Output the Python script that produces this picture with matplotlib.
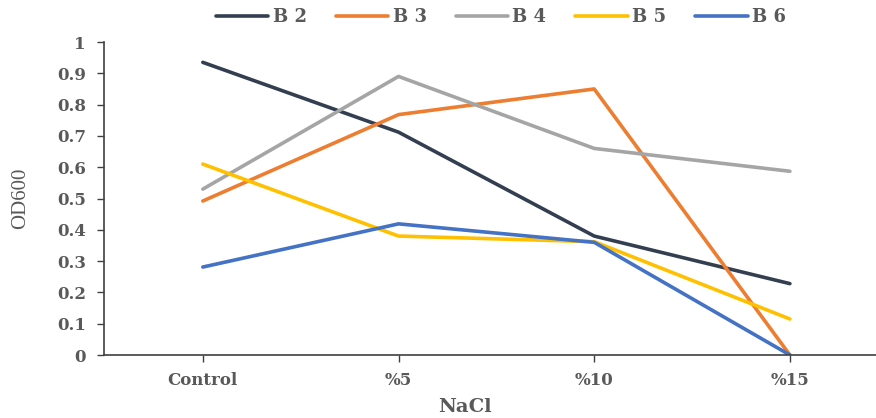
import matplotlib
matplotlib.use('Agg')
import matplotlib.pyplot as plt

# data
categories = ["Control", "%5", "%10", "%15"]
b2 = [0.935, 0.712, 0.380, 0.228]
b3 = [0.492, 0.768, 0.850, 0.0]
b4 = [0.530, 0.890, 0.660, 0.587]
b5 = [0.610, 0.380, 0.362, 0.115]
b6 = [0.281, 0.419, 0.360, 0.0]
names = ["B 2", "B 3", "B 4", "B 5", "B 6"]
colors = ["#333f50", "#ed7d31", "#a5a5a5", "#ffc000", "#4472c4"]

plt.rcParams['font.family'] = ['DejaVu Serif']
txt = "#595959"

fig = plt.figure(figsize=(8.76, 4.18), dpi=100)
ax = fig.add_axes([104/876, 1 - 355/418, (876-104)/876, (355-42)/418])

x = range(len(categories))
for vals, name, c in zip([b2, b3, b4, b5, b6], names, colors):
    ax.plot(x, vals, color=c, lw=2.6, label=name, solid_capstyle='round')

ax.set_xlim(-0.505, 3.44)
ax.set_ylim(0, 1)
ax.set_yticks([i / 10 for i in range(11)])
ax.set_yticklabels(["0", "0.1", "0.2", "0.3", "0.4", "0.5", "0.6", "0.7", "0.8", "0.9", "1"])
ax.set_xticks(list(x))
ax.set_xticklabels(categories)

for s in ["top", "right"]:
    ax.spines[s].set_visible(False)
for s in ["left", "bottom"]:
    ax.spines[s].set_color("#404040")
    ax.spines[s].set_linewidth(1.2)
ax.tick_params(axis='both', colors="#404040", labelcolor=txt, length=5, width=1)
ax.tick_params(axis='y', pad=8)
ax.tick_params(axis='x', pad=7)
for lab in ax.get_xticklabels() + ax.get_yticklabels():
    lab.set_fontweight('bold')
    lab.set_fontsize(12)

fig.text(465/876, 1 - 407/418, "NaCl", fontsize=14, fontweight='bold', color=txt,
         ha='center', va='center')
ax.set_ylabel("OD600", fontsize=15, color=txt, fontfamily='Liberation Serif')
ax.yaxis.set_label_coords((30 - 104) / 772, 0.5)

leg = fig.legend(loc='center', bbox_to_anchor=(501/876, 1 - 17/418), ncol=5, frameon=False,
                 handlelength=2.9, columnspacing=1.6, handletextpad=0.25,
                 prop={'weight': 'bold', 'size': 13})
for t in leg.get_texts():
    t.set_color(txt)

fig.savefig("out.png", dpi=100)
